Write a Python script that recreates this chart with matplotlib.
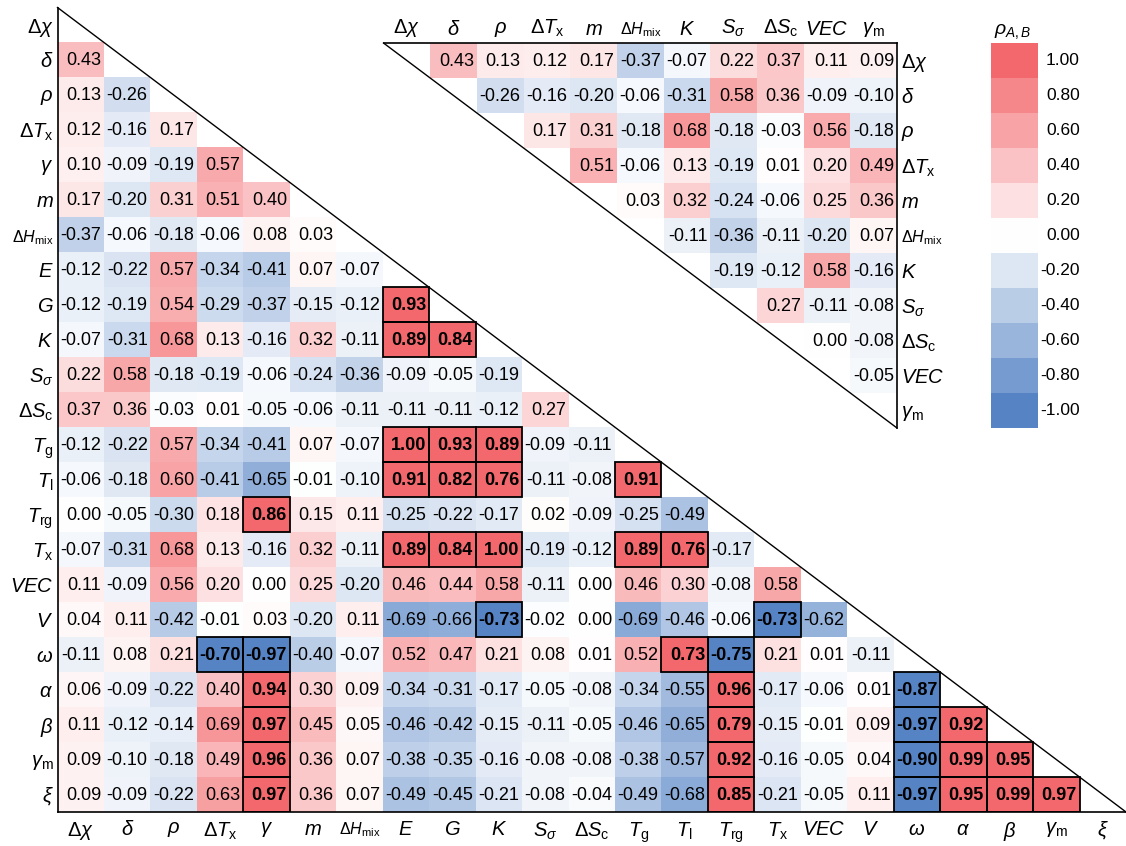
import numpy as np
import matplotlib
matplotlib.use("Agg")
import matplotlib.pyplot as plt
from matplotlib.colors import LinearSegmentedColormap, Normalize
from matplotlib.patches import Rectangle

plt.rcParams["font.family"] = ["Liberation Sans", "DejaVu Sans"]
plt.rcParams["mathtext.fontset"] = "custom"
plt.rcParams["mathtext.rm"] = "Liberation Sans"
plt.rcParams["mathtext.it"] = "Liberation Sans:italic"
plt.rcParams["mathtext.bf"] = "Liberation Sans:bold"

# ---- data -------------------------------------------------------------
variables = [r"$\Delta\chi$", r"$\delta$", r"$\rho$", r"$\Delta T_\mathrm{x}$", r"$\gamma$",
             r"$m$", r"$\Delta H_\mathrm{mix}$", r"$E$", r"$G$", r"$K$", r"$S_\sigma$",
             r"$\Delta S_\mathrm{c}$", r"$T_\mathrm{g}$", r"$T_\mathrm{l}$", r"$T_\mathrm{rg}$",
             r"$T_\mathrm{x}$", r"$VEC$", r"$V$", r"$\omega$", r"$\alpha$", r"$\beta$",
             r"$\gamma_\mathrm{m}$", r"$\xi$"]

# Pearson coefficients, lower triangle, one list per row
lower_rows = [
    [],
    [0.43],
    [0.13, -0.26],
    [0.12, -0.16, 0.17],
    [0.10, -0.09, -0.19, 0.57],
    [0.17, -0.20, 0.31, 0.51, 0.40],
    [-0.37, -0.06, -0.18, -0.06, 0.08, 0.03],
    [-0.12, -0.22, 0.57, -0.34, -0.41, 0.07, -0.07],
    [-0.12, -0.19, 0.54, -0.29, -0.37, -0.15, -0.12, 0.93],
    [-0.07, -0.31, 0.68, 0.13, -0.16, 0.32, -0.11, 0.89, 0.84],
    [0.22, 0.58, -0.18, -0.19, -0.06, -0.24, -0.36, -0.09, -0.05, -0.19],
    [0.37, 0.36, -0.03, 0.01, -0.05, -0.06, -0.11, -0.11, -0.11, -0.12, 0.27],
    [-0.12, -0.22, 0.57, -0.34, -0.41, 0.07, -0.07, 1.00, 0.93, 0.89, -0.09, -0.11],
    [-0.06, -0.18, 0.60, -0.41, -0.65, -0.01, -0.10, 0.91, 0.82, 0.76, -0.11, -0.08, 0.91],
    [0.00, -0.05, -0.30, 0.18, 0.86, 0.15, 0.11, -0.25, -0.22, -0.17, 0.02, -0.09, -0.25, -0.49],
    [-0.07, -0.31, 0.68, 0.13, -0.16, 0.32, -0.11, 0.89, 0.84, 1.00, -0.19, -0.12, 0.89, 0.76,
     -0.17],
    [0.11, -0.09, 0.56, 0.20, 0.00, 0.25, -0.20, 0.46, 0.44, 0.58, -0.11, 0.00, 0.46, 0.30,
     -0.08, 0.58],
    [0.04, 0.11, -0.42, -0.01, 0.03, -0.20, 0.11, -0.69, -0.66, -0.73, -0.02, 0.00, -0.69, -0.46,
     -0.06, -0.73, -0.62],
    [-0.11, 0.08, 0.21, -0.70, -0.97, -0.40, -0.07, 0.52, 0.47, 0.21, 0.08, 0.01, 0.52, 0.73,
     -0.75, 0.21, 0.01, -0.11],
    [0.06, -0.09, -0.22, 0.40, 0.94, 0.30, 0.09, -0.34, -0.31, -0.17, -0.05, -0.08, -0.34, -0.55,
     0.96, -0.17, -0.06, 0.01, -0.87],
    [0.11, -0.12, -0.14, 0.69, 0.97, 0.45, 0.05, -0.46, -0.42, -0.15, -0.11, -0.05, -0.46, -0.65,
     0.79, -0.15, -0.01, 0.09, -0.97, 0.92],
    [0.09, -0.10, -0.18, 0.49, 0.96, 0.36, 0.07, -0.38, -0.35, -0.16, -0.08, -0.08, -0.38, -0.57,
     0.92, -0.16, -0.05, 0.04, -0.90, 0.99, 0.95],
    [0.09, -0.09, -0.22, 0.63, 0.97, 0.36, 0.07, -0.49, -0.45, -0.21, -0.08, -0.04, -0.49, -0.68,
     0.85, -0.21, -0.05, 0.11, -0.97, 0.95, 0.99, 0.97],
]

# features kept in the reduced set (indices into `variables`)
subset_idx = [0, 1, 2, 3, 5, 6, 9, 10, 11, 16, 21]

legend_levels = [1.00, 0.80, 0.60, 0.40, 0.20, 0.00, -0.20, -0.40, -0.60, -0.80, -1.00]
strong_threshold = 0.70

# ---- styling ----------------------------------------------------------
RED = "#F3686C"
BLUE = "#5583C4"
cmap = LinearSegmentedColormap.from_list("rb", [BLUE, "#FFFFFF", RED])
norm = Normalize(vmin=-1, vmax=1)
LABEL_FS = 14.5
NUM_FS = 13

n = len(variables)
corr = np.full((n, n), np.nan)
for i, row in enumerate(lower_rows):
    for j, v in enumerate(row):
        corr[i, j] = v
        corr[j, i] = v
np.fill_diagonal(corr, 1.0)

W, H = 1126, 846
fig = plt.figure(figsize=(W / 100, H / 100), dpi=100)


def frac(x0, y0, x1, y1):
    """pixel box (left, top, right, bottom) -> figure fraction rect"""
    return [x0 / W, 1 - y1 / H, (x1 - x0) / W, (y1 - y0) / H]


def shade(values, keep):
    """full colour for strong links, graded colour otherwise"""
    disp = np.where(np.abs(values) >= strong_threshold, np.sign(values), values)
    return np.ma.masked_where(~keep, disp)


def annotate(ax, values, keep):
    rows, cols = values.shape
    for i in range(rows):
        for j in range(cols):
            if not keep[i, j]:
                continue
            v = values[i, j]
            strong = abs(v) >= strong_threshold
            ax.text(j + 0.94, i + 0.52, f"{v:.2f}", ha="right", va="center",
                    fontsize=NUM_FS, fontweight="bold" if strong else "normal",
                    color="black")
            if strong:
                ax.add_patch(Rectangle((j, i), 1, 1, fill=False, ec="black",
                                       lw=1.3, zorder=3))


# ---- full matrix (lower triangle) --------------------------------------
ax = fig.add_axes(frac(57.5, 7.5, 1126, 812))
ii, jj = np.indices((n, n))
keep_lower = ii > jj
ax.pcolormesh(np.arange(n + 1), np.arange(n + 1), shade(corr, keep_lower),
              cmap=cmap, norm=norm)
annotate(ax, corr, keep_lower)
ax.plot([0, n], [0, n], color="black", lw=1.0, clip_on=False, zorder=4)
ax.set_xlim(0, n)
ax.set_ylim(n, 0)
ax.set_xticks(np.arange(n) + 0.5)
ax.set_xticklabels(variables, fontsize=LABEL_FS)
ax.set_yticks(np.arange(n) + 0.5)
ax.set_yticklabels(variables, fontsize=LABEL_FS)
ax.tick_params(axis="y", length=0, pad=3)
ax.tick_params(axis="x", length=0, pad=6)
for s in ("top", "right"):
    ax.spines[s].set_visible(False)
for s in ("left", "bottom"):
    ax.spines[s].set_linewidth(1.2)
for lab in ax.get_xticklabels() + ax.get_yticklabels():
    if "mix" in lab.get_text():
        lab.set_fontsize(11.5)

# ---- reduced set (upper triangle) --------------------------------------
k = len(subset_idx)
sub = corr[np.ix_(subset_idx, subset_idx)]
sub_labels = [variables[i] for i in subset_idx]
ax2 = fig.add_axes(frac(383.5, 43, 897, 428))
ax2.patch.set_visible(False)
ii, jj = np.indices((k, k))
keep_upper = jj > ii
ax2.pcolormesh(np.arange(k + 1), np.arange(k + 1), shade(sub, keep_upper),
               cmap=cmap, norm=norm)
annotate(ax2, sub, keep_upper)
ax2.plot([0, k], [0, k], color="black", lw=1.0, clip_on=False, zorder=4)
ax2.set_xlim(0, k)
ax2.set_ylim(k, 0)
ax2.xaxis.tick_top()
ax2.yaxis.tick_right()
ax2.set_xticks(np.arange(k) + 0.5)
ax2.set_xticklabels(sub_labels, fontsize=LABEL_FS)
ax2.set_yticks(np.arange(k) + 0.5)
ax2.set_yticklabels(sub_labels, fontsize=LABEL_FS)
ax2.tick_params(length=0, pad=3)
for s in ("bottom", "left"):
    ax2.spines[s].set_visible(False)
for s in ("top", "right"):
    ax2.spines[s].set_linewidth(1.2)
for lab in ax2.get_xticklabels() + ax2.get_yticklabels():
    if "mix" in lab.get_text():
        lab.set_fontsize(11.5)

# ---- stepped colour key ------------------------------------------------
cax = fig.add_axes(frac(991, 43, 1038, 428))
levels = np.array(legend_levels)[:, None]
cax.pcolormesh(np.arange(2), np.arange(len(legend_levels) + 1), levels,
               cmap=cmap, norm=norm)
cax.set_xlim(0, 1)
cax.set_ylim(len(legend_levels), 0)
cax.axis("off")
for r, v in enumerate(legend_levels):
    cax.text(1.89, r + 0.5, f"{v:.2f}", ha="right", va="center", fontsize=12.5)
fig.text(1013 / W, 1 - 32 / H, r"$\rho_{A,B}$", ha="center", va="center", fontsize=14)

fig.savefig("out.png", dpi=100)
